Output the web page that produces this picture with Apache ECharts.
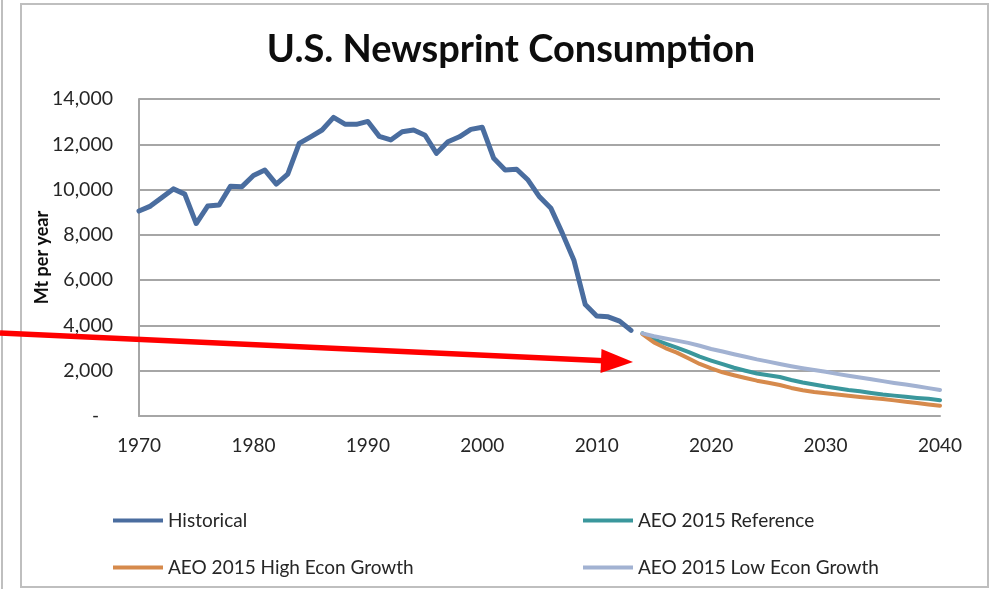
<!DOCTYPE html>
<html>
<head>
<meta charset="utf-8">
<script src="https://cdn.jsdelivr.net/npm/echarts@6/dist/echarts.min.js"></script>
<style>
html,body{margin:0;padding:0;background:#fff;}
#chart{width:996px;height:589px;}
</style>
</head>
<body>
<div id="chart"></div>
<script>
var histYears = [1970,1971,1972,1973,1974,1975,1976,1977,1978,1979,1980,1981,1982,1983,1984,1985,1986,1987,1988,1989,1990,1991,1992,1993,1994,1995,1996,1997,1998,1999,2000,2001,2002,2003,2004,2005,2006,2007,2008,2009,2010,2011,2012,2013];
var historical = [9050,9270,9650,10030,9800,8500,9270,9320,10150,10130,10620,10860,10240,10680,12040,12330,12630,13190,12890,12880,13010,12350,12190,12550,12630,12400,11600,12110,12330,12660,12750,11380,10860,10900,10420,9680,9170,8065,6890,4920,4420,4380,4190,3780];
var projYears = [2014,2015,2016,2017,2018,2019,2020,2021,2022,2023,2024,2025,2026,2027,2028,2029,2030,2031,2032,2033,2034,2035,2036,2037,2038,2039,2040];
var reference = [3650,3380,3200,3020,2830,2620,2450,2290,2130,2000,1880,1800,1720,1590,1480,1390,1300,1230,1150,1090,1020,950,900,850,800,760,700];
var highGrowth = [3620,3250,3000,2800,2550,2300,2100,1930,1800,1680,1560,1470,1370,1240,1140,1060,1000,950,890,840,790,750,690,630,570,510,450];
var lowGrowth = [3650,3520,3420,3330,3230,3100,2960,2850,2730,2620,2500,2400,2300,2200,2110,2030,1950,1860,1780,1700,1620,1540,1460,1390,1310,1230,1150];
var yTicks = [0,2000,4000,6000,8000,10000,12000,14000];
var xTicks = [1970,1980,1990,2000,2010,2020,2030,2040];
var seriesNames = ['Historical','AEO 2015 Reference','AEO 2015 High Econ Growth','AEO 2015 Low Econ Growth'];

function pairs(xs, ys){ return xs.map(function(x,i){ return [x, ys[i]]; }); }

var FONT = 'Lato';
var chart = echarts.init(document.getElementById('chart'));
var colors = ['#4A6D9F','#3A979C','#D68A4C','#A2B2D2'];

function lineSeries(name, data, color, width){
  return {name:name, type:'line', data:data, showSymbol:false, symbol:'none',
    lineStyle:{color:color, width:width, cap:'round', join:'round'}, itemStyle:{color:color}, z:3};
}

var legendPos = [[108,506],[578,506],[108,553],[578,553]];
var legends = seriesNames.map(function(n,i){
  return {data:[n], left:legendPos[i][0], top:legendPos[i][1], itemWidth:50, itemHeight:4, itemGap:0,
    icon:'rect', textStyle:{fontFamily:FONT, fontSize:19, color:'#262626'}};
});

chart.setOption({
  animation:false,
  backgroundColor:'#ffffff',
  title:{text:'U.S. Newsprint Consumption', left:506, top:26, textAlign:'center',
    textStyle:{fontFamily:FONT, fontSize:38, fontWeight:'bold', color:'#0d0d0d'}},
  legend:legends,
  grid:{left:139, right:56, top:99, bottom:173, containLabel:false},
  xAxis:{type:'value', min:xTicks[0], max:xTicks[xTicks.length-1], interval:10,
    axisLine:{show:true, lineStyle:{color:'#A6A6A6', width:2}},
    axisTick:{show:false}, splitLine:{show:false},
    axisLabel:{margin:20, fontFamily:FONT, fontSize:19, color:'#262626',
      formatter:function(v){ return String(v); }}},
  yAxis:{type:'value', min:yTicks[0], max:yTicks[yTicks.length-1], interval:2000,
    name:'Mt per year', nameLocation:'middle', nameRotate:90, nameGap:88, nameMoveOverlap:false,
    nameTextStyle:{fontFamily:FONT, fontSize:18, fontWeight:'bold', color:'#0d0d0d'},
    axisLine:{show:true, lineStyle:{color:'#A6A6A6', width:2}},
    axisTick:{show:false},
    splitLine:{lineStyle:{color:'#A6A6A6', width:2}},
    axisLabel:{margin:26, fontFamily:FONT, fontSize:19.5, color:'#262626',
      formatter:function(v){ return v===0 ? '{d|-}' : v.toLocaleString('en-US'); },
      rich:{d:{fontFamily:FONT, fontSize:19, color:'#262626', padding:[0,14,0,0]}}}},
  series:[
    lineSeries(seriesNames[0], pairs(histYears, historical), colors[0], 5),
    lineSeries(seriesNames[1], pairs(projYears, reference), colors[1], 4),
    lineSeries(seriesNames[2], pairs(projYears, highGrowth), colors[2], 4),
    lineSeries(seriesNames[3], pairs(projYears, lowGrowth), colors[3], 4)
  ],
  graphic:[
    {type:'rect', shape:{x:21, y:4, width:967, height:583}, style:{fill:null, stroke:'#BFBFBF', lineWidth:2}, silent:true, z:0},
    {type:'line', shape:{x1:2, y1:0, x2:2, y2:589}, style:{stroke:'#BFBFBF', lineWidth:2}, silent:true},
    {type:'line', shape:{x1:0, y1:333, x2:604, y2:360.7}, style:{stroke:'#FF0000', lineWidth:5.5}, silent:true, z:10},
    {type:'polygon', shape:{points:[[633,362],[601.5,349],[600.5,373]]}, style:{fill:'#FF0000'}, silent:true, z:10}
  ]
});
</script>
</body>
</html>
